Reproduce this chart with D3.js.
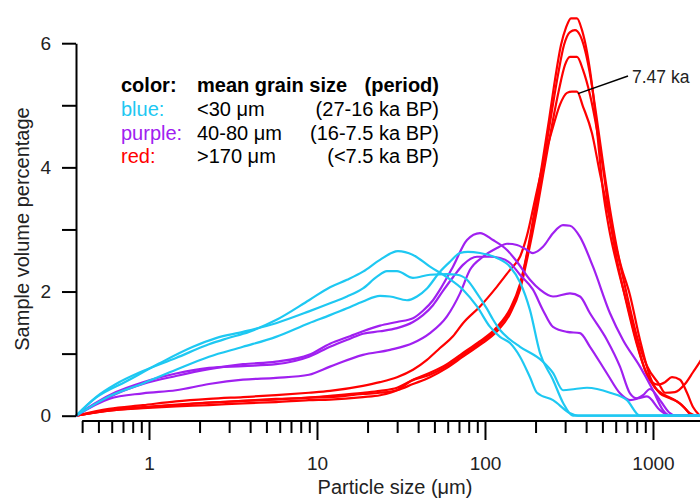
<!DOCTYPE html>
<html>
<head>
<meta charset="utf-8">
<script src="https://cdn.jsdelivr.net/npm/d3@7"></script>
<style>
  body { margin: 0; background: #fff; }
  svg { display: block; font-family: "Liberation Sans", Arial, sans-serif; }
</style>
</head>
<body>
<svg id="chart" width="700" height="501"></svg>
<script>
// [particle size in µm, sample volume %]
const blue1 = [[0.368,0],[0.484,0.30],[0.636,0.51],[0.921,0.72],[1.448,0.93],[2.276,1.15],[2.873,1.24],[3.938,1.35],[5.70,1.54],[8.96,1.86],[11.95,2.07],[15.09,2.19],[18.78,2.32],[23.71,2.51],[30.35,2.65],[37.28,2.59],[47.06,2.40],[59.40,2.23],[73.97,2.03],[89.6,1.76],[107.2,1.43],[122.9,1.27],[140.9,1.17],[161.6,0.95],[185.3,0.62],[204.0,0.37],[254.0,0.25],[320.6,0.04],[357.8,0],[1905,0]];
const blue2 = [[0.368,0],[0.484,0.29],[0.730,0.55],[1.147,0.84],[1.827,1.11],[2.505,1.25],[3.627,1.35],[5.70,1.49],[8.96,1.68],[11.95,1.81],[15.09,1.92],[18.78,2.05],[22.76,2.24],[26.10,2.33],[29.94,2.33],[37.28,2.22],[47.06,2.27],[59.40,2.28],[68.13,2.27],[78.15,2.19],[89.6,1.97],[102.8,1.72],[111.6,1.55],[122.9,1.38],[139.0,1.24],[161.6,1.11],[221.4,0.87],[254.0,0.69],[291.3,0.41],[343.4,0.43],[404.8,0.45],[554.8,0.37],[700.3,0.25],[837.0,0],[1905,0]];
const blue3 = [[0.368,0],[0.578,0.31],[0.921,0.52],[1.448,0.74],[2.276,0.95],[3.627,1.11],[5.70,1.27],[8.96,1.49],[11.95,1.62],[15.09,1.73],[18.78,1.84],[23.71,1.93],[27.20,1.92],[34.34,1.86],[39.37,1.92],[45.16,2.05],[53.97,2.32],[61.89,2.48],[71.0,2.62],[79.23,2.64],[93.4,2.62],[117.9,2.54],[140.9,2.40],[161.6,2.15],[185.3,1.70],[212.5,1.01],[254.0,0.58],[291.3,0.21],[334.1,0],[1905,0]];

const purple1 = [[0.368,0],[0.484,0.19],[0.636,0.35],[0.921,0.51],[1.448,0.64],[2.276,0.75],[3.627,0.83],[5.70,0.87],[8.96,0.98],[11.95,1.16],[15.72,1.28],[18.78,1.36],[23.71,1.45],[29.94,1.51],[37.28,1.57],[42.75,1.69],[49.04,1.86],[53.97,2.03],[64.49,2.40],[78.15,2.83],[93.4,2.94],[111.6,2.83],[135.2,2.67],[155.0,2.48],[185.3,2.19],[212.5,2.03],[254.0,1.92],[320.6,1.97],[367.7,1.92],[421.7,1.65],[532.4,1.22],[636.3,0.79],[729.7,0.36],[803.2,0.28],[921.3,0.31],[1100.7,0.09],[1262.5,0],[1905,0]];
const purple2 = [[0.368,0],[0.484,0.21],[0.636,0.38],[0.921,0.54],[1.448,0.68],[2.276,0.77],[3.627,0.80],[5.70,0.83],[8.96,0.95],[11.95,1.11],[15.72,1.24],[18.78,1.32],[23.71,1.36],[29.94,1.41],[37.28,1.51],[42.75,1.62],[49.04,1.78],[56.23,2.01],[64.49,2.23],[73.97,2.43],[89.6,2.56],[107.2,2.56],[122.9,2.54],[140.9,2.46],[161.6,2.27],[193.1,2.03],[221.4,1.70],[254.0,1.43],[307.7,1.35],[367.7,1.33],[421.7,1.11],[532.4,0.68],[636.3,0.36],[729.7,0.25],[872.1,0.33],[960.0,0.43],[1100.7,0.25],[1262.5,0.04],[1352.1,0],[1905,0]];
const purple3 = [[0.368,0],[0.578,0.27],[0.921,0.36],[1.448,0.41],[2.276,0.51],[3.627,0.58],[5.70,0.61],[8.96,0.66],[11.95,0.79],[18.78,0.98],[27.20,1.06],[37.28,1.17],[47.06,1.33],[59.40,1.60],[71.0,1.97],[81.42,2.35],[97.3,2.56],[117.9,2.70],[135.2,2.77],[155.0,2.75],[173.0,2.69],[193.1,2.62],[221.4,2.72],[254.0,2.94],[291.3,3.07],[320.6,3.06],[367.7,2.88],[439.5,2.40],[554.8,1.65],[663.0,1.22],[837.0,0.79],[1000,0.41],[1147.0,0.09],[1262.5,0],[1905,0]];

const red1 = [[0.368,0],[0.578,0.11],[0.921,0.17],[1.448,0.23],[2.276,0.27],[3.627,0.30],[5.70,0.33],[8.96,0.37],[11.95,0.40],[18.78,0.48],[23.71,0.54],[29.94,0.62],[37.28,0.74],[45.16,0.90],[53.97,1.09],[64.49,1.28],[73.97,1.49],[93.4,1.76],[117.9,2.08],[140.9,2.35],[161.6,2.56],[177.8,2.90],[198.5,3.48],[224.5,4.12],[254.0,4.65],[279.5,5.01],[307.7,5.20],[329.5,5.22],[352.9,5.22],[383.2,4.98],[433.5,4.55],[483.7,3.90],[518.0,3.52],[562.3,3.07],[619.0,2.59],[700.3,1.94],[803.2,1.27],[921.3,0.80],[1085.7,0.51],[1178.9,0.37],[1352.1,0.38],[1550.6,0.51],[1730.6,0.70],[1905,0.87],[2245,1.25]];
const red2 = [[0.368,0],[0.578,0.08],[0.921,0.13],[1.448,0.17],[2.276,0.21],[3.627,0.24],[5.70,0.26],[8.96,0.29],[11.95,0.30],[18.78,0.35],[23.71,0.37],[29.94,0.41],[37.28,0.51],[47.06,0.62],[59.40,0.77],[73.97,0.95],[93.4,1.14],[117.9,1.36],[140.9,1.64],[161.6,2.03],[180.3,2.59],[201.2,3.23],[224.5,3.96],[250.5,4.68],[275.7,5.25],[299.4,5.65],[320.6,5.78],[352.9,5.78],[383.2,5.57],[421.7,5.17],[464.2,4.60],[510.9,3.88],[554.8,3.15],[619.0,2.43],[700.3,1.78],[803.2,1.14],[908.8,0.70],[1027.8,0.45],[1178.9,0.33],[1352.1,0.25],[1550.6,0.12],[1707.6,0],[1905,0]];
const red3 = [[0.368,0],[0.578,0.08],[0.921,0.12],[1.448,0.15],[2.276,0.17],[3.627,0.20],[5.70,0.22],[8.96,0.25],[11.95,0.26],[18.78,0.30],[23.71,0.33],[29.94,0.41],[36.27,0.56],[47.06,0.66],[59.40,0.80],[73.97,0.98],[93.4,1.17],[117.9,1.40],[140.9,1.69],[161.6,2.09],[180.3,2.67],[201.2,3.31],[224.5,4.12],[250.5,4.92],[272.0,5.49],[295.3,5.97],[320.6,6.18],[343.4,6.21],[367.7,6.13],[393.8,5.89],[427.6,5.41],[464.2,4.76],[510.9,3.96],[562.3,3.23],[627.6,2.54],[729.7,1.94],[837.0,1.22],[960.0,0.63],[1100.7,0.36],[1262.5,0.28],[1448.3,0.20],[1660.6,0.04],[1828.3,0],[1905,0]];
const red4 = [[0.368,0],[0.578,0.09],[0.921,0.14],[1.448,0.18],[2.276,0.21],[3.627,0.24],[5.70,0.27],[8.96,0.29],[11.95,0.32],[18.78,0.37],[23.71,0.40],[29.94,0.45],[37.28,0.58],[47.06,0.69],[59.40,0.83],[73.97,1.01],[93.4,1.20],[117.9,1.43],[140.9,1.72],[161.6,2.12],[180.3,2.70],[198.5,3.35],[218.4,4.04],[240.4,4.76],[261.0,5.41],[283.4,5.97],[303.5,6.25],[325.1,6.40],[352.9,6.40],[378.0,6.21],[404.8,5.86],[433.5,5.33],[464.2,4.60],[504.0,3.63],[547.2,3.02],[610.6,2.43],[700.3,1.81],[803.2,1.17],[896.4,0.74],[986.4,0.54],[1070.9,0.50],[1178.9,0.54],[1297.6,0.62],[1448.3,0.58],[1593.7,0.37],[1730.6,0.14],[1905,0]];

const blueSeries = [blue1, blue2, blue3];
const purpleSeries = [purple1, purple2, purple3];
const redSeries = [red1, red2, red3, red4];

const yTicks = [0, 1, 2, 3, 4, 5, 6];
const xMajor = [1, 10, 100, 1000];
const xMinor = [0.4, 0.5, 0.6, 0.7, 0.8, 0.9, 2, 3, 4, 5, 6, 7, 8, 9, 20, 30, 40, 50, 60, 70, 80, 90, 200, 300, 400, 500, 600, 700, 800, 900];

const legendHead = ['color:', 'mean grain size', '(period)'];
const legendRows = [
  ['blue:', '<30 μm', '(27-16 ka BP)'],
  ['purple:', '40-80 μm', '(16-7.5 ka BP)'],
  ['red:', '>170 μm', '(<7.5 ka BP)'],
];

const cyan = '#1ec8f2', purple = '#a020f0', red = '#ff0000';

const svg = d3.select('#chart');
svg.append('rect').attr('width', 700).attr('height', 501).attr('fill', '#fff');

const x = d3.scaleLog().domain([0.3677, 1905]).range([76, 700]);
const y = d3.scaleLinear().domain([0, 6]).range([415.7, 43.2]);

const line = d3.line()
  .x(d => x(d[0]))
  .y(d => y(d[1]))
  .curve(d3.curveMonotoneX);

// red first, cyan on top
const groups = [
  {color: red, series: redSeries},
  {color: purple, series: purpleSeries},
  {color: cyan, series: blueSeries},
];
svg.append('g')
  .selectAll('g')
  .data(groups)
  .join('g')
    .attr('stroke', d => d.color)
  .selectAll('path')
  .data(d => d.series)
  .join('path')
    .attr('fill', 'none')
    .attr('stroke-width', 2.2)
    .attr('stroke-linejoin', 'round')
    .attr('d', line);

// x axis, offset below the plot
const gx = svg.append('g').attr('transform', 'translate(0,421)');
gx.append('line')
  .attr('x1', x(0.4)).attr('x2', 700)
  .attr('stroke', '#000').attr('stroke-width', 2);
gx.append('g')
  .call(d3.axisBottom(x).tickValues(xMinor).tickSize(12).tickFormat(''))
  .call(g => g.select('.domain').remove());
gx.append('g')
  .call(d3.axisBottom(x).tickValues(xMajor).tickSize(19).tickPadding(17).tickFormat(d3.format('d')))
  .call(g => g.select('.domain').remove());
gx.selectAll('.tick line').attr('stroke', '#000').attr('stroke-width', 2);
gx.selectAll('text').attr('font-size', 19).attr('font-family', null).attr('fill', '#222');

// y axis
const gy = svg.append('g').attr('transform', 'translate(76,0)')
  .call(d3.axisLeft(y).tickValues(yTicks).tickSize(14).tickSizeOuter(0).tickPadding(11)
    .tickFormat(d => d % 2 ? '' : d));
gy.select('.domain').attr('stroke', '#000').attr('stroke-width', 2);
gy.selectAll('.tick line').attr('stroke', '#000').attr('stroke-width', 2);
gy.selectAll('text').attr('font-size', 19).attr('font-family', null).attr('fill', '#222');

// axis titles
svg.append('text')
  .attr('x', 395).attr('y', 494)
  .attr('text-anchor', 'middle').attr('font-size', 20).attr('fill', '#222')
  .text('Particle size (μm)');
svg.append('text')
  .attr('transform', 'translate(29,229) rotate(-90)')
  .attr('text-anchor', 'middle').attr('font-size', 20).attr('fill', '#222')
  .text('Sample volume percentage');

// legend table
const colX = [121, 197, 439];
const anchors = ['start', 'start', 'end'];
const rowY = [92, 116, 140, 163];
const legend = svg.append('g').attr('font-size', 20);
legendHead.forEach((t, i) => {
  legend.append('text')
    .attr('x', colX[i]).attr('y', rowY[0])
    .attr('text-anchor', anchors[i]).attr('font-weight', 'bold').attr('fill', '#000')
    .text(t);
});
const rowColors = [cyan, purple, red];
legendRows.forEach((row, r) => {
  row.forEach((t, i) => {
    legend.append('text')
      .attr('x', colX[i]).attr('y', rowY[r + 1])
      .attr('text-anchor', anchors[i])
      .attr('fill', i === 0 ? rowColors[r] : '#000')
      .text(t);
  });
});

// callout for the 7.47 ka sample (peak of red1)
const peak = red1[28];
svg.append('line')
  .attr('x1', x(peak[0]) + 1).attr('y1', y(peak[1]) + 2)
  .attr('x2', 628).attr('y2', 76)
  .attr('stroke', '#000').attr('stroke-width', 1.5);
svg.append('text')
  .attr('x', 632).attr('y', 83)
  .attr('font-size', 17.5).attr('fill', '#222')
  .text('7.47 ka');
</script>
</body>
</html>
